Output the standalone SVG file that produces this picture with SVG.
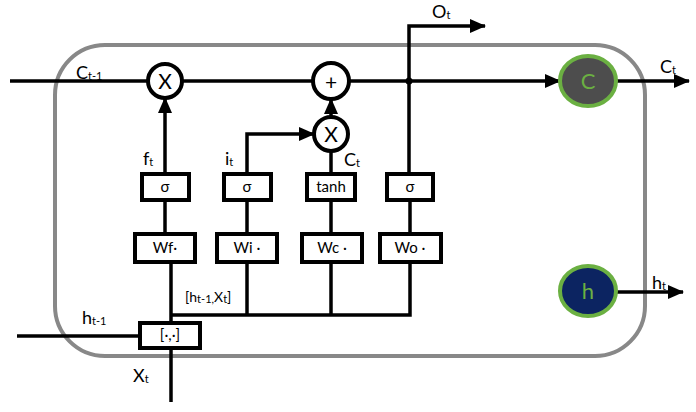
<svg xmlns="http://www.w3.org/2000/svg" width="696" height="412" viewBox="0 0 696 412">
<style>
.ln{stroke:#000;stroke-width:3.5;fill:none;stroke-linecap:butt}
.op{fill:#fff;stroke:#000;stroke-width:4}
.bx{fill:#fff;stroke:#000;stroke-width:4}
.t{font-family:Lato,"Open Sans","DejaVu Sans",sans-serif;fill:#000}
.lab{font-size:18px}
.sub{font-size:11px}
.bt{font-size:15px;text-anchor:middle}
.ot{font-size:21px;text-anchor:middle}
</style>
<defs>
<marker id="ah" markerUnits="userSpaceOnUse" markerWidth="16" markerHeight="14" refX="15" refY="7" orient="auto">
<path d="M0,0 L16,7 L0,14 Z" fill="#000"/>
</marker>
</defs>
<rect x="55" y="45" width="590" height="311" rx="50" ry="50" fill="none" stroke="#888" stroke-width="4"/>
<g id="connectors">
<line class="ln" x1="10" y1="81" x2="148" y2="81"/>
<line class="ln" x1="182" y1="81" x2="312" y2="81"/>
<line class="ln" x1="349" y1="81" x2="560" y2="81" marker-end="url(#ah)"/>
<line class="ln" x1="616" y1="81" x2="689" y2="81" marker-end="url(#ah)"/>
<line class="ln" x1="165" y1="174" x2="165" y2="98" marker-end="url(#ah)"/>
<polyline class="ln" points="247,174 247,134 314,134" marker-end="url(#ah)"/>
<line class="ln" x1="331" y1="174" x2="331" y2="151"/>
<line class="ln" x1="331" y1="117" x2="331" y2="99" marker-end="url(#ah)"/>
<polyline class="ln" points="409,174 409,26 485,26" marker-end="url(#ah)"/>
<circle cx="409" cy="81" r="3.5" fill="#000"/>
<line class="ln" x1="165" y1="200" x2="165" y2="234"/>
<line class="ln" x1="247" y1="200" x2="247" y2="234"/>
<line class="ln" x1="331" y1="200" x2="331" y2="234"/>
<line class="ln" x1="410" y1="200" x2="410" y2="234"/>
<line class="ln" x1="171" y1="262" x2="171" y2="323"/>
<polyline class="ln" points="171,315 410,315 410,262"/>
<line class="ln" x1="247" y1="262" x2="247" y2="315"/>
<line class="ln" x1="331" y1="262" x2="331" y2="315"/>
<line class="ln" x1="17" y1="336" x2="140" y2="336"/>
<line class="ln" x1="171" y1="348" x2="171" y2="402"/>
<line class="ln" x1="616" y1="292" x2="683" y2="292" marker-end="url(#ah)"/>
</g>
<g id="mul-f"><circle class="op" cx="165" cy="81" r="17"/><text class="t ot" x="165" y="88.5">X</text></g>
<g id="add"><circle class="op" cx="331" cy="81" r="18"/><text class="t ot" x="331" y="90" font-size="27">+</text></g>
<g id="mul-i"><circle class="op" cx="331" cy="134" r="17"/><text class="t ot" x="331" y="141.5">X</text></g>
<g id="sig-f"><rect class="bx" x="142" y="174" width="47" height="26"/><text class="t bt" x="165" y="192">σ</text></g>
<g id="sig-i"><rect class="bx" x="224" y="174" width="47" height="26"/><text class="t bt" x="247" y="192">σ</text></g>
<g id="tanh"><rect class="bx" x="307" y="174" width="48" height="26"/><text class="t bt" x="331" y="192">tanh</text></g>
<g id="sig-o"><rect class="bx" x="387" y="174" width="46" height="26"/><text class="t bt" x="410" y="192">σ</text></g>
<g id="wf"><rect class="bx" x="135" y="234" width="60" height="28"/><text class="t bt" x="165" y="253">Wf·</text></g>
<g id="wi"><rect class="bx" x="217" y="234" width="60" height="28"/><text class="t bt" x="247" y="253">Wi ·</text></g>
<g id="wc"><rect class="bx" x="302" y="234" width="60" height="28"/><text class="t bt" x="332" y="253">Wc ·</text></g>
<g id="wo"><rect class="bx" x="380" y="234" width="61" height="28"/><text class="t bt" x="410" y="253">Wo ·</text></g>
<g id="concat"><rect class="bx" x="140" y="323" width="60" height="25"/><text class="t bt" x="170" y="340">[·,·]</text></g>
<g id="cell-c"><ellipse cx="588" cy="81" rx="28" ry="25" fill="#4d4d4d" stroke="#6bb042" stroke-width="4"/><text class="t" x="588" y="89" font-size="22" text-anchor="middle" style="fill:#6bb042">C</text></g>
<g id="cell-h"><ellipse cx="588" cy="291" rx="28" ry="25" fill="#0c2461" stroke="#6bb042" stroke-width="4"/><text class="t" x="588" y="299" font-size="22" text-anchor="middle" style="fill:#6bb042">h</text></g>
<g id="labels">
<text class="t lab" x="76" y="79">C<tspan class="sub" dy="1">t-1</tspan></text>
<text class="t lab" x="143" y="165">f<tspan class="sub" dy="1">t</tspan></text>
<text class="t lab" x="225" y="165">i<tspan class="sub" dy="1">t</tspan></text>
<text class="t lab" x="344" y="166">C<tspan class="sub" dy="1">t</tspan></text>
<text class="t lab" x="432" y="18">O<tspan class="sub" dy="1">t</tspan></text>
<text class="t lab" x="660" y="73">C<tspan class="sub" dy="1">t</tspan></text>
<text class="t lab" x="652" y="289">h<tspan class="sub" dy="1">t</tspan></text>
<text class="t lab" x="82" y="324">h<tspan class="sub" dy="1">t-1</tspan></text>
<text class="t lab" x="133" y="382">X<tspan class="sub" dy="1">t</tspan></text>
<text class="t" x="185" y="302" font-size="14">[h<tspan class="sub" dy="1">t-1,</tspan><tspan dy="-1">X</tspan><tspan class="sub" dy="1">t</tspan><tspan dy="-1">]</tspan></text>
</g>
</svg>
